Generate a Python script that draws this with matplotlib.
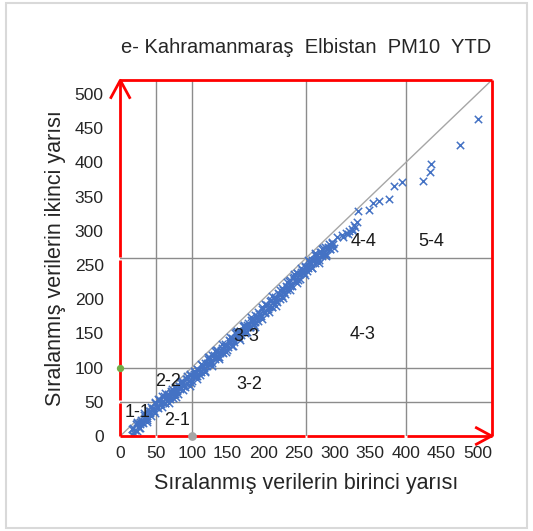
import matplotlib
matplotlib.use("Agg")
import matplotlib.pyplot as plt
from matplotlib.patches import Rectangle

plt.rcParams['font.family'] = ['Liberation Sans', 'DejaVu Sans']

# sorted halves of the PM10 series (first half vs second half)
birinci_a = [16, 18, 21, 23, 26, 28, 31, 33, 36, 38, 41, 43, 46, 48, 51, 53, 56, 58, 61, 63,
             66, 68, 71, 73, 76, 78, 81, 83, 86, 88, 91, 93, 96, 98, 101, 103, 106, 108, 111, 113,
             116, 118, 121, 123, 126, 128, 131, 133, 136, 138, 141, 143, 146, 148, 151, 153, 156, 158, 161, 163,
             166, 168, 171, 173, 176, 178, 181, 183, 186, 188, 191, 193, 196, 198, 201, 203, 206, 208, 211, 213,
             216, 218, 221, 223, 226, 228, 231, 233, 236, 238, 241, 243, 246, 248, 251, 253, 256, 258, 261, 263,
             266, 268, 271, 273, 276, 278, 281, 283, 286, 288, 291, 293, 296, 298]
ikinci_a = [1, 11, 9, 19, 11, 21, 20, 30, 29, 27, 37, 29, 41, 48, 43, 41, 53, 49, 59, 48,
            59, 55, 66, 62, 61, 69, 62, 72, 79, 73, 72, 83, 81, 89, 80, 90, 88, 98, 95, 93,
            103, 95, 106, 113, 108, 107, 119, 116, 125, 115, 126, 123, 134, 131, 130, 139, 132, 142, 150, 144,
            143, 154, 152, 161, 152, 162, 160, 170, 168, 166, 176, 168, 179, 186, 181, 180, 192, 189, 199, 189,
            200, 197, 209, 206, 205, 214, 208, 218, 226, 220, 220, 232, 230, 239, 230, 240, 239, 249, 247, 245,
            255, 246, 257, 264, 259, 258, 269, 266, 276, 266, 277, 274, 284, 281]

birinci_b = [17, 19, 22, 24, 27, 29, 32, 34, 37, 39, 42, 44, 47, 49, 52, 54, 57, 59, 62, 64,
             67, 69, 72, 74, 77, 79, 82, 84, 87, 89, 92, 94, 97, 99, 102, 104, 107, 109, 112, 114,
             117, 119, 122, 124, 127, 129, 132, 134, 137, 139, 142, 144, 147, 149, 152, 154, 157, 159, 162, 164,
             167, 169, 172, 174, 177, 179, 182, 184, 187, 189, 192, 194, 197, 199, 202, 204, 207, 209, 212, 214,
             217, 219, 222, 224, 227, 229, 232, 234, 237, 239, 242, 244, 247, 249, 252, 254, 257, 259, 262, 264,
             267, 269, 272, 274, 277, 279, 282, 284, 287, 289, 292, 294, 297, 299]
ikinci_b = [10, 5, 18, 8, 18, 24, 19, 28, 23, 38, 34, 40, 37, 50, 44, 52, 47, 58, 48, 55,
            62, 54, 64, 56, 72, 66, 73, 68, 81, 74, 83, 77, 90, 78, 87, 93, 87, 96, 89, 104,
            100, 106, 102, 115, 109, 118, 113, 125, 115, 122, 129, 122, 132, 125, 141, 136, 143, 138, 152, 145,
            154, 148, 161, 150, 159, 165, 159, 168, 162, 177, 173, 179, 175, 188, 182, 191, 186, 198, 188, 196,
            203, 196, 207, 200, 216, 211, 219, 214, 228, 221, 231, 226, 239, 228, 237, 243, 238, 247, 241, 256,
            252, 257, 253, 266, 260, 269, 263, 275, 265, 273, 280, 273, 282, 275]

birinci_d = [18, 23, 28, 33, 38, 43, 48, 53, 58, 63, 68, 73, 78, 83, 88, 93, 98, 103, 108, 113,
             118, 123, 128, 133, 138, 143, 148, 153, 158, 163, 168, 173, 178, 183, 188, 193, 198, 203, 208, 213,
             218, 223, 228, 233, 238, 243, 248, 253, 258, 263, 268, 273, 278, 283, 288]
ikinci_d = [2, 21, 11, 34, 21, 43, 33, 54, 42, 63, 48, 69, 57, 79, 67, 88, 73, 95, 84, 105,
            94, 116, 102, 124, 112, 134, 123, 145, 131, 153, 141, 163, 152, 174, 160, 182, 171, 193, 182, 204,
            190, 213, 202, 225, 214, 237, 223, 245, 235, 257, 245, 267, 253, 274, 263]

# upper tail
birinci_c = [303, 310, 312, 316, 319, 321, 324, 326, 327, 329, 331, 333, 348, 354, 363, 376, 383, 395,
             424, 434, 435, 476, 501]
ikinci_c = [291, 294, 291, 297, 296, 300, 303, 299, 308, 306, 313, 329, 330, 341, 344, 347, 366, 372,
            373, 386, 397, 426, 463]

# PM10 index class limits
sinirlar_x = [50, 100, 260, 400]
sinirlar_y = [50, 100, 260]
eksen_max = 520

bolge_etiketleri = ["1-1", "2-1", "2-2", "3-2", "3-3", "4-3", "4-4", "5-4"]
bolge_x = [24, 79, 67, 180, 177, 339, 340, 436]
bolge_y = [34, 22, 79, 76, 146, 149, 285, 285]

fig = plt.figure(figsize=(5.33, 5.31), dpi=100)
fig.patches.append(Rectangle((0.011, 0.006), 0.978, 0.988, transform=fig.transFigure,
                             fill=False, edgecolor='#D9D9D9', lw=1.5))
ax = fig.add_axes([0.2257, 0.1789, 0.6966, 0.6699])

ax.set_xlim(0, eksen_max)
ax.set_ylim(0, eksen_max)
for s in ax.spines.values():
    s.set_visible(False)

# class limit grid
for v in sinirlar_x:
    ax.plot([v, v], [0, eksen_max], color='#8C8C8C', lw=1, zorder=1)
for v in sinirlar_y:
    ax.plot([0, eksen_max], [v, v], color='#8C8C8C', lw=1, zorder=1)

# 1:1 line
ax.plot([0, eksen_max], [0, eksen_max], color='#A6A6A6', lw=1, zorder=1)

birinci = birinci_a + birinci_b + birinci_d + birinci_c
ikinci = ikinci_a + ikinci_b + ikinci_d + ikinci_c
ax.scatter(birinci, ikinci, marker='x', s=28, color='#4472C4', linewidths=1.1, zorder=3)

# red frame with small breaks at the grid lines
kirmizi = dict(color='#FF0000', lw=2, solid_capstyle='butt', clip_on=False, zorder=4)
kes = [0] + sinirlar_y + [eksen_max]
for a, b in zip(kes[:-1], kes[1:]):
    ax.plot([0, 0], [a + 2 if a else a, b - 2 if b != eksen_max else b], **kirmizi)
kes = [0] + sinirlar_x + [eksen_max]
for a, b in zip(kes[:-1], kes[1:]):
    ax.plot([a + 2 if a else a, b - 2 if b != eksen_max else b], [0, 0], **kirmizi)
ax.plot([0, eksen_max], [eksen_max, eksen_max], **kirmizi)
ax.plot([eksen_max, eksen_max], [0, eksen_max], **kirmizi)

# arrow heads
ax.plot([-14, 0, 14], [493, eksen_max, 493], **kirmizi)
ax.plot([497, eksen_max, 497], [13, 0, -13], **kirmizi)

ax.scatter([0], [100], s=18, color='#70AD47', zorder=5, clip_on=False)
ax.scatter([100], [0], s=28, color='#A5A5A5', zorder=5, clip_on=False)

for t, x, y in zip(bolge_etiketleri, bolge_x, bolge_y):
    ax.text(x, y, t, fontsize=13, ha='center', va='center', color='#1A1A1A', zorder=6)

ax.set_xticks(range(0, 501, 50))
ax.set_yticks(range(0, 501, 50))
ax.tick_params(axis='both', length=0, labelsize=12.5, labelcolor='#262626')
ax.tick_params(axis='y', pad=12)
ax.tick_params(axis='x', pad=7)

ax.set_title("e- Kahramanmaraş  Elbistan  PM10  YTD", fontsize=14.5, color='#262626', pad=20)
ax.set_xlabel("Sıralanmış verilerin birinci yarısı", fontsize=15.5, color='#262626', labelpad=9)
ax.set_ylabel("Sıralanmış verilerin ikinci yarısı", fontsize=15.5, color='#262626', labelpad=6)

fig.savefig("out.png", dpi=100)
